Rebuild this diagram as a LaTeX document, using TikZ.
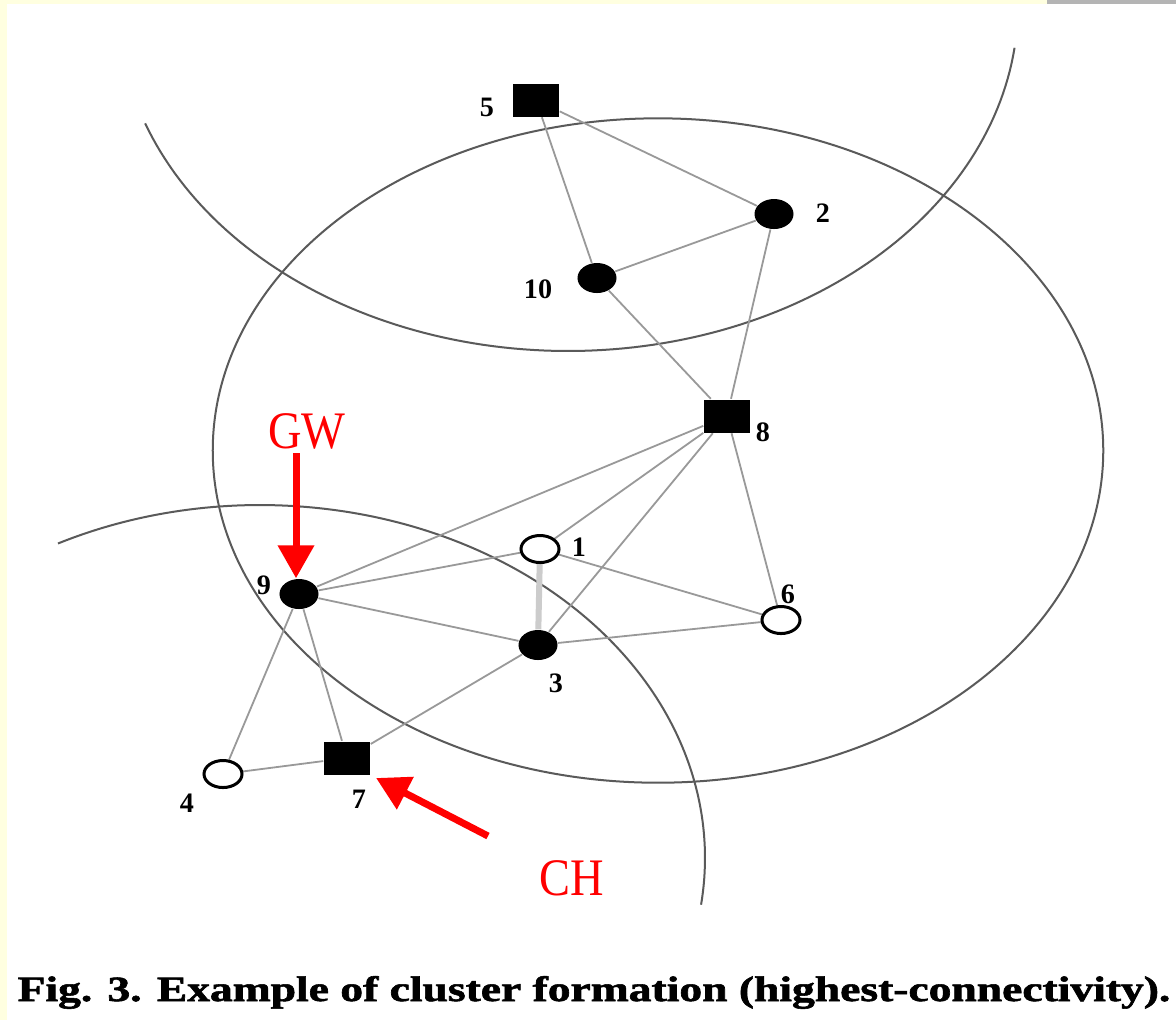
\documentclass[tikz,border=0pt]{standalone}
\usepackage{fontspec}
\setmainfont{Liberation Serif}
\newfontfamily\capfont{Liberation Serif}[BoldFeatures={FakeBold=1.5}]
\usetikzlibrary{arrows.meta,shapes.geometric}
\pgfdeclarelayer{paper}
\pgfdeclarelayer{bg}
\pgfsetlayers{paper,bg,main}
\definecolor{cream}{HTML}{FFFFE0}
\definecolor{barg}{HTML}{B4B4B4}
\definecolor{edgegray}{HTML}{999999}
\definecolor{rangegray}{HTML}{5A5A5A}
\definecolor{pairgray}{HTML}{CCCCCC}

\begin{document}
\begin{tikzpicture}[x=0.01cm,y=-0.01cm,
  fnode/.style={ellipse,fill=black,inner sep=0pt,minimum width=0.39cm,minimum height=0.30cm},
  onode/.style={ellipse,draw=black,fill=white,line width=0.03cm,inner sep=0pt,minimum width=0.38cm,minimum height=0.27cm},
  snode/.style={rectangle,fill=black,inner sep=0pt,minimum width=0.46cm,minimum height=0.33cm},
  numlab/.style={font=\fontsize{8}{9}\selectfont\bfseries,inner sep=0pt},
  linkline/.style={draw=edgegray,line width=0.018cm},
  rangeline/.style={draw=rangegray,line width=0.02cm},
  redarrow/.style={draw=red,line width=0.07cm,-{Triangle[width=0.35cm,length=0.33cm]}},
  redtag/.style={text=red,font=\fontsize{15}{17}\selectfont,inner sep=0pt,xscale=0.88}
]
\useasboundingbox (0,0) rectangle (1176,1020);

% page background with the slide's edge strips
\begin{pgfonlayer}{paper}
  \fill[white] (0,0) rectangle (1176,1020);
  \fill[cream] (0,0) rectangle (1047,4);
  \fill[cream] (0,0) rectangle (7,1020);
  \fill[barg] (1047,0) rectangle (1176,4);
\end{pgfonlayer}

% nodes: squares are cluster heads, filled discs gateways, open discs members
\node[snode] (n5)  at (536,100) {};
\node[fnode] (n2)  at (774,214) {};
\node[fnode] (n10) at (597,278) {};
\node[snode] (n8)  at (727,416) {};
\node[onode] (n1)  at (540,549) {};
\node[fnode] (n9)  at (299,594) {};
\node[onode] (n6)  at (781,620) {};
\node[fnode] (n3)  at (538,645) {};
\node[snode] (n7)  at (347,758) {};
\node[onode] (n4)  at (223,774) {};

% node numbers
\node[numlab] (l5)  at (487,107) {5};
\node[numlab] (l2)  at (823,213) {2};
\node[numlab] (l10) at (538,289) {10};
\node[numlab] (l8)  at (763,432) {8};
\node[numlab] (l1)  at (579,547) {1};
\node[numlab] (l9)  at (264,585) {9};
\node[numlab] (l6)  at (788,594) {6};
\node[numlab] (l3)  at (556,683) {3};
\node[numlab] (l7)  at (359,799) {7};
\node[numlab] (l4)  at (187,803) {4};

\begin{pgfonlayer}{bg}
  % transmission ranges of the three cluster heads
  \draw[rangeline] plot[domain=7.1:160, samples=120] ({568+450*cos(\x)}, {5+346*sin(\x)});
  \draw[rangeline] (658,450.5) ellipse [x radius=4.45cm, y radius=3.32cm];
  \draw[rangeline] plot[domain=-117:7.6, samples=120] ({260+445*cos(\x)}, {858+353*sin(\x)});
  % links
  \draw[pairgray, line width=0.06cm] (n1) -- (n3);
  \draw[linkline] (n5) -- (n10);
  \draw[linkline] (n5) -- (n2);
  \draw[linkline] (n10) -- (n2);
  \draw[linkline] (n10) -- (n8);
  \draw[linkline] (n2) -- (n8);
  \draw[linkline] (n8) -- (n9);
  \draw[linkline] (n8) -- (n1);
  \draw[linkline] (n8) -- (n3);
  \draw[linkline] (n8) -- (n6);
  \draw[linkline] (n9) -- (n1);
  \draw[linkline] (n9) -- (n3);
  \draw[linkline] (n9) -- (n4);
  \draw[linkline] (n9) -- (n7);
  \draw[linkline] (n1) -- (n6);
  \draw[linkline] (n3) -- (n6);
  \draw[linkline] (n3) -- (n7);
  \draw[linkline] (n4) -- (n7);
\end{pgfonlayer}

% annotations
\node[redtag] (gw) at (307,431) {GW};
\node[redtag] (ch) at (572,878) {CH};
\coordinate (gwtail) at (296,453);
\coordinate (chtail) at (488,836);
\draw[redarrow] (gwtail) -- (gwtail |- n9.north);
\draw[redarrow, shorten >=0.06cm] (chtail) -- (n7.south east);

% caption
\node[inner sep=0pt, anchor=base] (cap) at (594,1001)
  {\resizebox{11.52cm}{0.25cm}{\capfont\bfseries Fig. 3. Example of cluster formation (highest-connectivity).}};
\end{tikzpicture}
\end{document}
